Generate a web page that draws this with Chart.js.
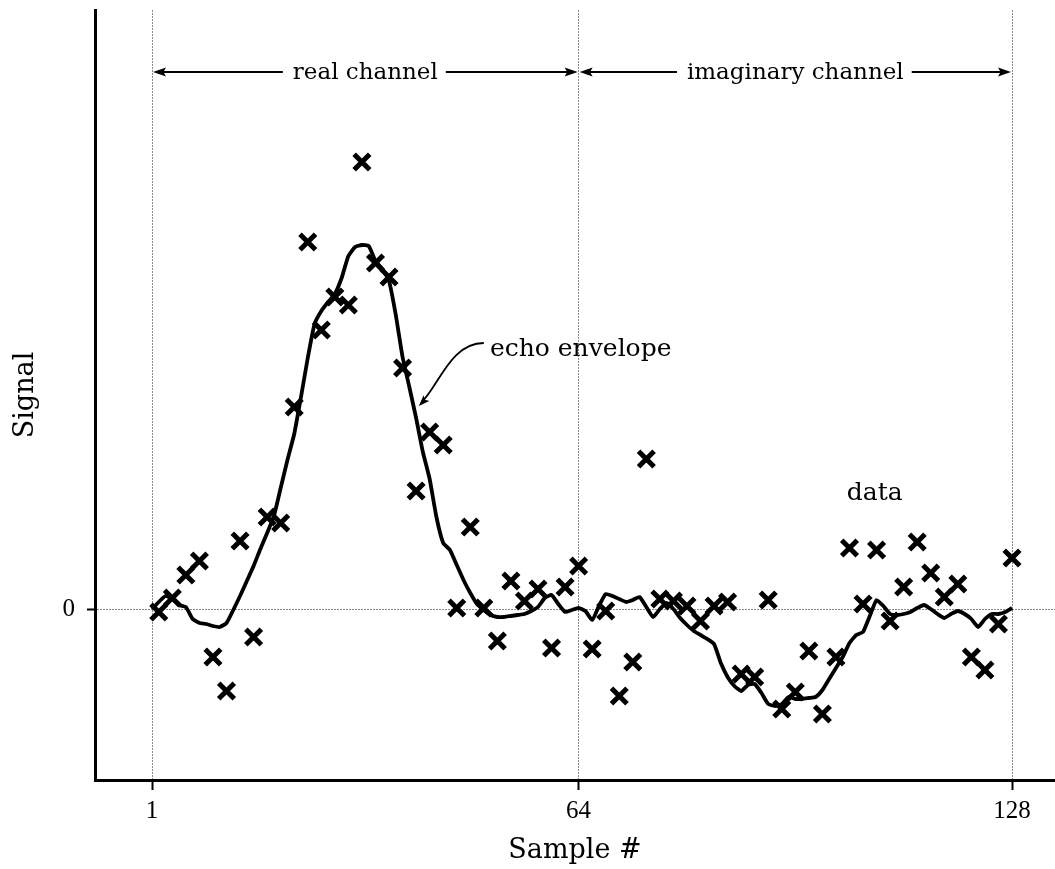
<!DOCTYPE html>
<html>
<head>
<meta charset="utf-8">
<script src="https://cdn.jsdelivr.net/npm/chart.js@4.4.1/dist/chart.umd.min.js"></script>
<style>
  html, body { margin: 0; padding: 0; background: #fff; overflow: hidden; }
  canvas { display: block; }
</style>
</head>
<body>
<canvas id="chart" width="1055" height="869"></canvas>
<script>
// Sample numbers of the smoothed echo envelope (every sample of both channels)
const envelopeSample = [
  1, 2, 3, 4, 5, 6, 7, 8, 9, 10, 11, 12, 13, 14, 15, 16,
  17, 18, 19, 20, 21, 22, 23, 24, 25, 26, 27, 28, 29, 30, 31, 32,
  33, 34, 35, 36, 37, 38, 39, 40, 41, 42, 43, 44, 45, 46, 47, 48,
  49, 50, 51, 52, 53, 54, 55, 56, 57, 58, 59, 60, 61, 62, 63, 64,
  65, 66, 67, 68, 69, 70, 71, 72, 73, 74, 75, 76, 77, 78, 79, 80,
  81, 82, 83, 84, 85, 86, 87, 88, 89, 90, 91, 92, 93, 94, 95, 96,
  97, 98, 99, 100, 101, 102, 103, 104, 105, 106, 107, 108, 109, 110, 111, 112,
  113, 114, 115, 116, 117, 118, 119, 120, 121, 122, 123, 124, 125, 126, 127, 128
];
const envelopeSignal = [
  0.00, 0.07, 0.13, 0.10, 0.04, 0.02, -0.10, -0.14, -0.15, -0.17, -0.18, -0.14, -0.01, 0.13, 0.28, 0.43,
  0.60, 0.76, 0.93, 1.21, 1.49, 1.75, 2.12, 2.51, 2.85, 2.98, 3.07, 3.15, 3.31, 3.53, 3.62, 3.64,
  3.63, 3.48, 3.40, 3.28, 2.94, 2.52, 2.22, 1.91, 1.57, 1.30, 0.92, 0.66, 0.59, 0.44, 0.29, 0.16,
  0.05, -0.01, -0.06, -0.08, -0.08, -0.07, -0.06, -0.05, -0.02, 0.02, 0.11, 0.14, 0.05, -0.03, -0.01, 0.01,
  -0.02, -0.11, 0.03, 0.15, 0.13, 0.10, 0.07, 0.09, 0.12, 0.02, -0.08, 0.00, 0.06, 0.00, -0.09, -0.16,
  -0.22, -0.26, -0.30, -0.35, -0.54, -0.68, -0.77, -0.82, -0.76, -0.75, -0.84, -0.95, -0.97, -0.95, -0.88, -0.90,
  -0.90, -0.89, -0.88, -0.81, -0.70, -0.59, -0.48, -0.34, -0.26, -0.23, -0.07, 0.09, 0.03, -0.05, -0.06, -0.05,
  -0.03, 0.01, 0.04, 0.00, -0.05, -0.09, -0.05, -0.02, -0.05, -0.10, -0.18, -0.10, -0.05, -0.05, -0.03, 0.01
];

// Measured samples (every second sample)
const dataSample = [
  2, 4, 6, 8, 10, 12, 14, 16, 18, 20, 22, 24, 26, 28, 30, 32,
  34, 36, 38, 40, 42, 44, 46, 48, 50, 52, 54, 56, 58, 60, 62, 64,
  66, 68, 70, 72, 74, 76, 78, 80, 82, 84, 86, 88, 90, 92, 94, 96,
  98, 100, 102, 104, 106, 108, 110, 112, 114, 116, 118, 120, 122, 124, 126, 128
];
const dataSignal = [
  -0.03, 0.11, 0.34, 0.48, -0.48, -0.82, 0.68, -0.28, 0.92, 0.86, 2.02, 3.67, 2.79, 3.12, 3.04, 4.47,
  3.46, 3.32, 2.41, 1.18, 1.77, 1.64, 0.01, 0.82, 0.01, -0.32, 0.28, 0.08, 0.20, -0.39, 0.22, 0.43,
  -0.40, -0.02, -0.87, -0.53, 1.50, 0.10, 0.08, 0.03, -0.12, 0.03, 0.07, -0.65, -0.68, 0.09, -1.00, -0.83,
  -0.42, -1.05, -0.48, 0.61, 0.05, 0.59, -0.12, 0.22, 0.67, 0.36, 0.12, 0.25, -0.48, -0.61, -0.15, 0.51
];

// Axis ticks
const sampleTicks = [1, 64, 128];
const signalTicks = [0];
const sampleTickLabels = ['1', '64', '128'];
const signalTickLabels = ['0'];

// Channel spans marked along the top
const channelNames = ['real channel', 'imaginary channel'];
const channelStart = [1, 64];
const channelEnd = [64, 128];

const TEXT_FONT = '"DejaVu Serif", "Liberation Serif", serif';
const NUM_FONT = '"Liberation Serif", "DejaVu Serif", serif';

const points = (xs, ys) => xs.map((v, i) => ({ x: v, y: ys[i] }));

// keep the plot box fixed: no extra room reserved for end tick labels
function noLabelPadding(s) {
  s.paddingTop = 0;
  s.paddingBottom = 0;
  s.paddingLeft = 0;
  s.paddingRight = 0;
}

// Filled arrowhead with its tip at (x, y), pointing along angle a
function arrowHead(ctx, x, y, a, len, half) {
  ctx.save();
  ctx.translate(x, y);
  ctx.rotate(a);
  ctx.beginPath();
  ctx.moveTo(0, 0);
  ctx.lineTo(-len, -half);
  ctx.lineTo(-len * 0.8, 0);
  ctx.lineTo(-len, half);
  ctx.closePath();
  ctx.fill();
  ctx.restore();
}

const notes = {
  id: 'notes',
  afterDraw(chart) {
    const { ctx, scales: { x, y } } = chart;
    ctx.save();
    ctx.fillStyle = '#000';
    ctx.strokeStyle = '#000';

    // channel spans with double-headed arrows
    ctx.font = '23px ' + TEXT_FONT;
    ctx.textAlign = 'center';
    ctx.textBaseline = 'alphabetic';
    const spanY = y.getPixelForValue(5.37);
    channelNames.forEach((name, i) => {
      const x0 = x.getPixelForValue(channelStart[i]);
      const x1 = x.getPixelForValue(channelEnd[i]);
      const cx = (x0 + x1) / 2;
      const w = ctx.measureText(name).width;
      ctx.fillText(name, cx, spanY + 7);
      ctx.lineWidth = 2.2;
      ctx.beginPath();
      ctx.moveTo(x0 + 6, spanY);
      ctx.lineTo(cx - w / 2 - 10, spanY);
      ctx.moveTo(cx + w / 2 + 8, spanY);
      ctx.lineTo(x1 - 6, spanY);
      ctx.stroke();
      arrowHead(ctx, x0 + 1, spanY, Math.PI, 13, 4.5);
      arrowHead(ctx, x1 - 1, spanY, 0, 13, 4.5);
    });

    // echo envelope label with curved pointer
    ctx.font = '25px ' + TEXT_FONT;
    ctx.textAlign = 'left';
    ctx.fillText('echo envelope', x.getPixelForValue(50.9), y.getPixelForValue(2.53));
    const p0 = [x.getPixelForValue(50.0), y.getPixelForValue(2.66)];
    const p1 = [x.getPixelForValue(45.1), y.getPixelForValue(2.66)];
    const p2 = [x.getPixelForValue(43.4), y.getPixelForValue(2.24)];
    const p3 = [x.getPixelForValue(40.4), y.getPixelForValue(2.03)];
    ctx.lineWidth = 1.8;
    ctx.beginPath();
    ctx.moveTo(p0[0], p0[1]);
    ctx.bezierCurveTo(p1[0], p1[1], p2[0], p2[1], p3[0] + 3, p3[1] - 4);
    ctx.stroke();
    arrowHead(ctx, p3[0], p3[1], Math.atan2(p3[1] - p2[1], p3[0] - p2[0]), 11, 4);

    // data label
    ctx.fillText('data', x.getPixelForValue(103.6), y.getPixelForValue(1.09));
    ctx.restore();
  }
};

new Chart(document.getElementById('chart'), {
  type: 'scatter',
  data: {
    datasets: [
      {
        label: 'echo envelope',
        type: 'line',
        data: points(envelopeSample, envelopeSignal),
        borderColor: '#000',
        borderWidth: 3.8,
        pointRadius: 0,
        tension: 0.15,
        fill: false,
        order: 2
      },
      {
        label: 'data',
        data: points(dataSample, dataSignal),
        pointStyle: 'crossRot',
        pointRadius: 11,
        pointBorderWidth: 5,
        borderColor: '#000',
        backgroundColor: '#000',
        showLine: false,
        order: 1
      }
    ]
  },
  options: {
    responsive: false,
    animation: false,
    devicePixelRatio: 1,
    layout: { autoPadding: false, padding: { top: 10, right: 0, bottom: 0, left: 0 } },
    plugins: {
      legend: { display: false },
      tooltip: { enabled: false },
      title: { display: false }
    },
    scales: {
      x: {
        type: 'linear',
        min: -7.42,
        max: 134.35,
        afterBuildTicks: (s) => { s.ticks = sampleTicks.map(v => ({ value: v })); },
        afterFit: (s) => { s.height = 89; noLabelPadding(s); },
        ticks: {
          color: '#000',
          font: { family: NUM_FONT, size: 25 },
          padding: 6,
          maxRotation: 0,
          autoSkip: false,
          callback: (v) => sampleTickLabels[sampleTicks.indexOf(v)]
        },
        grid: {
          color: '#8a8a8a',
          lineWidth: 1,
          drawOnChartArea: true,
          drawTicks: true,
          tickLength: 10,
          tickColor: '#000',
          tickWidth: 2
        },
        border: { display: true, color: '#000', width: 3, dash: [2, 1] },
        title: {
          display: true,
          text: 'Sample #',
          color: '#000',
          font: { family: TEXT_FONT, size: 27 },
          padding: { top: 0, bottom: 2 }
        }
      },
      y: {
        type: 'linear',
        min: -1.71,
        max: 5.99,
        afterBuildTicks: (s) => { s.ticks = signalTicks.map(v => ({ value: v })); },
        afterFit: (s) => { s.width = 95; noLabelPadding(s); },
        ticks: {
          color: '#000',
          font: { family: NUM_FONT, size: 25 },
          padding: 12,
          callback: (v) => signalTickLabels[signalTicks.indexOf(v)]
        },
        grid: {
          color: '#8a8a8a',
          lineWidth: 1,
          drawOnChartArea: true,
          drawTicks: true,
          tickLength: 8,
          tickColor: '#000',
          tickWidth: 2
        },
        border: { display: true, color: '#000', width: 3, dash: [2, 1] },
        title: {
          display: true,
          text: 'Signal',
          color: '#000',
          font: { family: TEXT_FONT, size: 27 },
          padding: { top: 10, bottom: 0 }
        }
      }
    }
  },
  plugins: [notes]
});
</script>
</body>
</html>
